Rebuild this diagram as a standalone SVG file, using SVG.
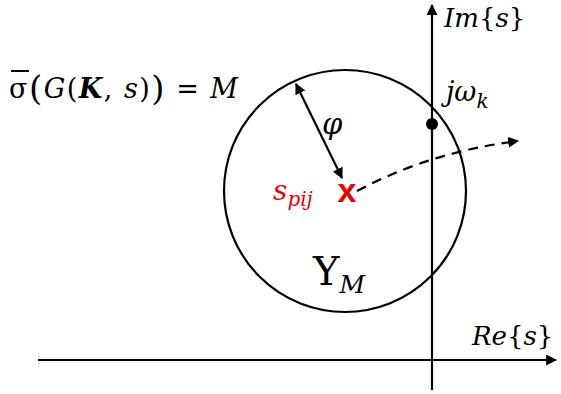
<svg xmlns="http://www.w3.org/2000/svg" width="561" height="394" viewBox="0 0 561 394">
<style>
.t{font-family:"DejaVu Serif","Liberation Serif",serif;fill:#000}
.i{font-style:italic}
.ln{stroke:#000;stroke-width:2.2;fill:none}
</style>
<defs>
<marker id="ah" viewBox="0 0 10 10" refX="9" refY="5" markerWidth="5" markerHeight="5" orient="auto-start-reverse"><path d="M0,0L10,5L0,10z" fill="#000"/></marker>
</defs>
<g id="connectors">
<line class="ln" x1="38" y1="360" x2="556" y2="360" marker-end="url(#ah)"/>
<line class="ln" x1="432" y1="390" x2="432" y2="5" marker-end="url(#ah)"/>
<line class="ln" x1="296" y1="84" x2="342" y2="178" marker-start="url(#ah)" marker-end="url(#ah)"/>
<path class="ln" d="M357,191 Q430,152 518,141" stroke-dasharray="10,7" marker-end="url(#ah)"/>
</g>
<g id="circle"><circle class="ln" cx="345" cy="191" r="121"/></g>
<g id="point"><circle cx="432" cy="124" r="6" fill="#000"/></g>
<g id="pole"><text x="347" y="202" font-family="Liberation Sans,sans-serif" font-weight="bold" font-size="34" fill="#e00" text-anchor="middle">x</text></g>
<g id="labels">
<line x1="11" y1="71" x2="29" y2="71" stroke="#000" stroke-width="2"/>
<text class="t" x="9" y="98" font-size="27" textLength="229" lengthAdjust="spacing"><tspan>σ</tspan><tspan font-size="34" dy="2">(</tspan><tspan class="i" dy="-2">G</tspan><tspan>(</tspan><tspan font-weight="bold" font-style="italic">K</tspan><tspan>, </tspan><tspan class="i">s</tspan><tspan>)</tspan><tspan font-size="34" dy="2">)</tspan><tspan dy="-2"> = </tspan><tspan class="i">M</tspan></text>
<text class="t i" x="322" y="134" font-size="29">φ</text>
<text class="t i" x="273" y="200" font-size="28" style="fill:#e00">s<tspan font-size="20" dy="6">pij</tspan></text>
<text class="t" x="313" y="285" font-size="40">Υ<tspan class="i" font-size="25" dy="8">M</tspan></text>
<text class="t" x="444" y="27" font-size="26"><tspan class="i">Im</tspan>{<tspan class="i">s</tspan>}</text>
<text class="t i" x="446" y="101" font-size="27">jω<tspan font-size="20" dy="7">k</tspan></text>
<text class="t" x="472" y="345" font-size="26"><tspan class="i">Re</tspan>{<tspan class="i">s</tspan>}</text>
</g>
</svg>
